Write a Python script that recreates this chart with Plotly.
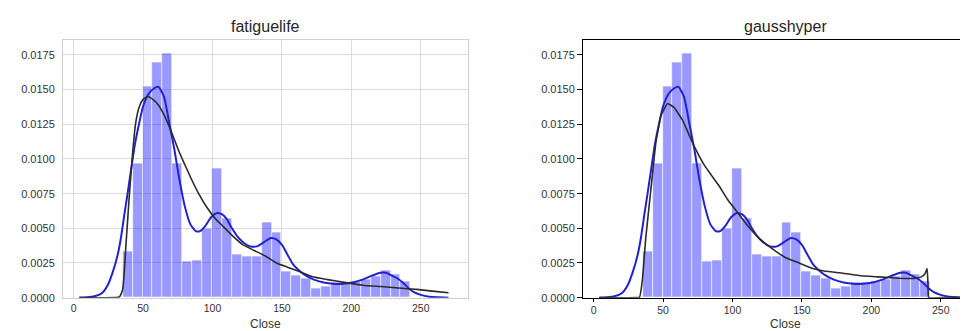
import plotly.graph_objects as go

# ---------------- data ----------------
hist_start = 35.3
bin_width = 7.145
density = [0.0033, 0.0097, 0.0152, 0.0170, 0.0176, 0.0097, 0.0026, 0.0027, 0.0050, 0.0093,
           0.0057, 0.0031, 0.0030, 0.0030, 0.0054, 0.0047, 0.0019, 0.0016, 0.0014, 0.0007,
           0.0008, 0.0011, 0.0011, 0.0012, 0.0013, 0.0015, 0.0020, 0.0017, 0.0012]

kde_x = [4, 10, 15, 20, 24.5, 28, 31.7, 34, 36.5, 38.5, 41.3, 44, 47, 50, 54, 58, 61, 65, 69,
         72.5, 76, 80, 84, 88, 91, 95, 99, 103.5, 107, 110, 114, 118, 122, 127, 132, 137, 142,
         146, 150, 154, 158, 162, 167, 173, 180, 187, 194, 201, 208, 215, 221, 225, 229, 233,
         237, 241, 245, 250, 256, 262, 270]
kde_y = [0.0, 0.00003, 0.0001, 0.0003, 0.0009, 0.0018, 0.0031, 0.0043, 0.0060, 0.0073, 0.0092,
         0.0110, 0.0125, 0.0138, 0.0147, 0.0151, 0.0152, 0.0145, 0.0125, 0.0107, 0.0086, 0.0066,
         0.0053, 0.0048, 0.0048, 0.0052, 0.0058, 0.0061, 0.0060, 0.0057, 0.0050, 0.0044, 0.0040,
         0.0037, 0.0037, 0.0040, 0.0043, 0.0042, 0.0038, 0.0031, 0.0024, 0.0020, 0.0016, 0.0013,
         0.0011, 0.0010, 0.0010, 0.0011, 0.0013, 0.0016, 0.0018, 0.0018, 0.0016, 0.0014, 0.0011,
         0.0007, 0.0004, 0.0002, 0.00007, 0.00002, 0.0]

fat_x = [4, 30, 33, 35.3, 37.7, 40.1, 42.5, 44.5, 47, 50, 53.5, 57, 61, 65, 69, 72.5, 76, 80,
         85, 90, 96, 102, 108, 115, 122, 130, 138, 146, 154, 162, 172, 183, 195, 208, 221, 234,
         247, 260, 270]
fat_y = [0.0, 0.0, 0.00005, 0.0006, 0.0039, 0.0074, 0.0105, 0.0125, 0.0137, 0.0143, 0.0145,
         0.0143, 0.0139, 0.0132, 0.0123, 0.0114, 0.0105, 0.0096, 0.0085, 0.0075, 0.0065, 0.0057,
         0.0051, 0.0044, 0.0038, 0.0034, 0.0030, 0.0025, 0.0022, 0.0019, 0.0015, 0.0013, 0.0011,
         0.0009, 0.0008, 0.0007, 0.0006, 0.00045, 0.00035]

gh_x = [4, 32, 33, 35, 37.6, 41.2, 44.8, 48.4, 53.2, 58, 64, 68, 72, 76, 80, 85, 90, 97, 104,
        110, 119, 129, 138, 148, 158, 167, 177, 191, 205, 220, 232, 236, 238.5, 240.2, 240.8,
        241.3, 250, 270]
gh_y = [0.0, 0.0, 0.00002, 0.0012, 0.0044, 0.0078, 0.0112, 0.0131, 0.0140, 0.0137, 0.0128,
        0.0119, 0.0110, 0.0102, 0.0095, 0.0088, 0.0081, 0.0070, 0.0061, 0.0053, 0.0043, 0.0035,
        0.0029, 0.0025, 0.0021, 0.0019, 0.0018, 0.0016, 0.0015, 0.0014, 0.0014, 0.0015, 0.0017,
        0.0021, 0.0010, 0.0, 0.0, 0.0]

titles = ["fatiguelife", "gausshyper"]
x_label = "Close"
x_ticks = [0, 50, 100, 150, 200, 250]
y_ticks = [0.0, 0.0025, 0.005, 0.0075, 0.01, 0.0125, 0.015, 0.0175]
y_tick_text = ["0.0000", "0.0025", "0.0050", "0.0075", "0.0100", "0.0125", "0.0150", "0.0175"]

# ---------------- figure ----------------
W, H = 968, 331
FONT = "Arial, Liberation Sans, sans-serif"
bar_color = "rgba(0,0,255,0.40)"
kde_color = "#2222cc"
fit_color = "#2b2b2b"

centers = [hist_start + bin_width * (i + 0.5) for i in range(len(density))]

fig = go.Figure()
fits = [(fat_x, fat_y), (gh_x, gh_y)]
for k in range(2):
    xa = "x" if k == 0 else "x2"
    ya = "y" if k == 0 else "y2"
    fig.add_trace(go.Bar(x=centers, y=density, width=bin_width, xaxis=xa, yaxis=ya,
                         marker=dict(color=bar_color, line=dict(color="white", width=0.6)),
                         showlegend=False, hoverinfo="skip"))
    fig.add_trace(go.Scatter(x=kde_x, y=kde_y, mode="lines", xaxis=xa, yaxis=ya,
                             line=dict(color=kde_color, width=2, shape="spline", smoothing=0.6),
                             showlegend=False))
    fx, fy = fits[k]
    fig.add_trace(go.Scatter(x=fx, y=fy, mode="lines", xaxis=xa, yaxis=ya,
                             line=dict(color=fit_color, width=1.6, shape="spline",
                                       smoothing=0.5 if k == 0 else 0.3),
                             showlegend=False))

y_top = 0.01855
ytickfont = dict(family=FONT, size=11, color="#333333")
xtickfont = dict(family=FONT, size=10.5, color="#333333")

fig.update_layout(
    width=W, height=H,
    margin=dict(l=0, r=0, t=0, b=0),
    paper_bgcolor="white", plot_bgcolor="white",
    font=dict(family=FONT, color="#262626"),
    bargap=0,
    xaxis=dict(domain=[55 / W, 460 / W], range=[-7.7, 284], tickvals=x_ticks,
               showgrid=True, gridcolor="#dcdcdc", gridwidth=1, zeroline=False,
               showline=True, linecolor="#d0d0d0", linewidth=1, mirror=True,
               ticks="outside", ticklen=1, tickcolor="rgba(0,0,0,0)", tickfont=xtickfont,
               anchor="y"),
    yaxis=dict(domain=[1 - 295 / H, 1 - 33 / H], range=[0, y_top], tickvals=y_ticks,
               ticktext=y_tick_text, showgrid=True, gridcolor="#dcdcdc", gridwidth=1,
               zeroline=False, showline=True, linecolor="#d0d0d0", linewidth=1, mirror=True,
               ticks="outside", ticklen=5, tickcolor="rgba(0,0,0,0)", tickfont=ytickfont,
               anchor="x"),
    xaxis2=dict(domain=[575 / W, 1.0], range=[-7.7, 275.4], tickvals=x_ticks,
                showgrid=False, zeroline=False, showline=True, linecolor="black", linewidth=1,
                mirror=True, ticks="outside", ticklen=3, tickcolor="black", tickfont=xtickfont,
                anchor="y2"),
    yaxis2=dict(domain=[1 - 295 / H, 1 - 33 / H], range=[0, y_top], tickvals=y_ticks,
                ticktext=y_tick_text, showgrid=False, zeroline=False, showline=True,
                linecolor="black", linewidth=1, mirror=False, ticks="outside", ticklen=5,
                tickcolor="black", tickfont=ytickfont, anchor="x2"),
)

centers_px = [257.5, 777.5]
for k in range(2):
    fig.add_annotation(text=titles[k], xref="paper", yref="paper", x=centers_px[k] / W,
                       y=1 - 19 / H, xanchor="center", yanchor="middle", showarrow=False,
                       font=dict(family=FONT, size=16, color="#262626"))
    fig.add_annotation(text=x_label, xref="paper", yref="paper", x=centers_px[k] / W,
                       y=1 - 322 / H, xanchor="center", yanchor="middle", showarrow=False,
                       font=dict(family=FONT, size=12, color="#333333"))

fig.write_html("out.html")
